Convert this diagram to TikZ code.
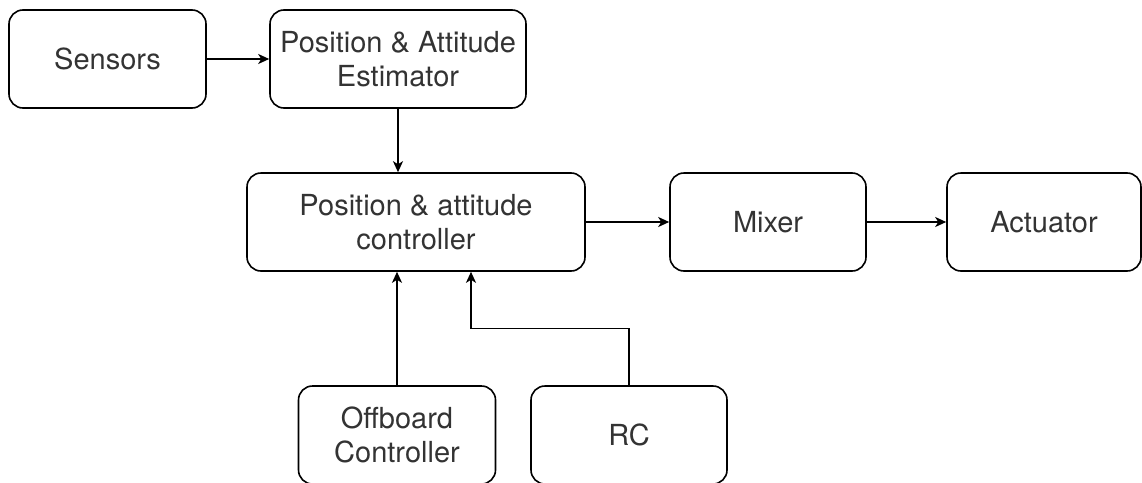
\documentclass[tikz,border=0pt]{standalone}
\usepackage{fontspec}
\setmainfont{TeX Gyre Heros}
\usetikzlibrary{arrows.meta,calc}

\begin{document}
\begin{tikzpicture}[x=1pt,y=-1pt,
  block/.style={draw=black, line width=1.6pt, rounded corners=14pt,
    inner sep=0pt, minimum height=98pt, align=center, text=black!80,
    font=\fontsize{29}{34}\selectfont},
  flow/.style={draw=black, line width=1.8pt,
    -{Stealth[length=11pt,width=10pt,inset=3pt]}}]
  \useasboundingbox (0,0) rectangle (1142,482);

  % blocks
  \node[block, minimum width=197pt] (sens) at (107.5,59) {Sensors};
  \node[block, minimum width=256pt] (est)  at (398,59) {Position \& Attitude\\Estimator};
  \node[block, minimum width=338pt] (ctrl) at (416,222) {Position \& attitude\\controller};
  \node[block, minimum width=196pt] (mix)  at (768,222) {Mixer};
  \node[block, minimum width=194pt] (act)  at (1044,222) {Actuator};
  \node[block, minimum width=197pt] (off)  at (397,435) {Offboard\\Controller};
  \node[block, minimum width=196pt] (rc)   at (629,435) {RC};

  % connectors
  \draw[flow] (sens.east) -- (est.west);
  \draw[flow] (est.south) -- (est.south |- ctrl.north);
  \draw[flow] (ctrl.east) -- (mix.west);
  \draw[flow] (mix.east) -- (act.west);
  \draw[flow] (off.north) -- (off.north |- ctrl.south);
  \coordinate (rcin) at ([xshift=55pt]ctrl.south);
  \path (rc.north) -- coordinate[pos=0.5] (rcmid) (rc.north |- rcin);
  \draw[flow] (rc.north) -- (rcmid) -| (rcin);
\end{tikzpicture}
\end{document}
